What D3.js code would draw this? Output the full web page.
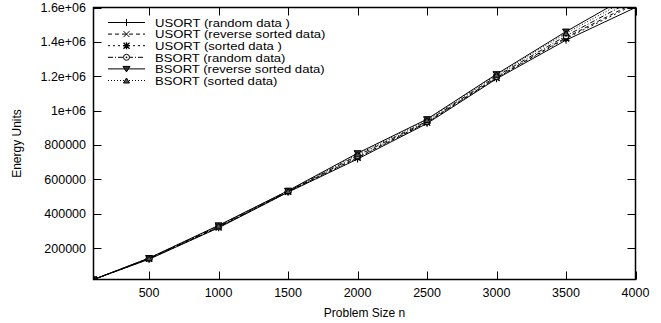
<!DOCTYPE html>
<html>
<head>
<meta charset="utf-8">
<script src="https://cdn.jsdelivr.net/npm/d3@7"></script>
<style>
  body { margin: 0; background: #fff; }
  text { font-family: "Liberation Sans", Arial, sans-serif; fill: #000; }
</style>
</head>
<body>
<div id="chart"></div>
<script>
// problem sizes
var sizes = [100, 500, 1000, 1500, 2000, 2500, 3000, 3500, 4000];

// energy per series
var usortRandom  = [17000, 135000, 318000, 525000, 718000, 925000, 1185000, 1410000, 1600000];
var usortReverse = [17000, 138000, 322000, 528000, 728000, 932000, 1192000, 1425000, 1630000];
var usortSorted  = [17000, 137000, 320000, 527000, 725000, 930000, 1190000, 1420000, 1620000];
var bsortRandom  = [17000, 140000, 326000, 530000, 738000, 938000, 1200000, 1435000, 1650000];
var bsortReverse = [17000, 142000, 332000, 534000, 752000, 950000, 1212000, 1460000, 1690000];
var bsortSorted  = [17000, 141000, 330000, 532000, 745000, 945000, 1208000, 1450000, 1670000];

var seriesNames = ["USORT (random data )", "USORT (reverse sorted data)", "USORT (sorted data )",
                   "BSORT (random data)", "BSORT (reverse sorted data)", "BSORT (sorted data)"];

var xTicks = [500, 1000, 1500, 2000, 2500, 3000, 3500, 4000];
var yTicks = [200000, 400000, 600000, 800000, 1000000, 1200000, 1400000, 1600000];
var yTickLabels = ["200000", "400000", "600000", "800000", "1e+06", "1.2e+06", "1.4e+06", "1.6e+06"];

var allValues = [usortRandom, usortReverse, usortSorted, bsortRandom, bsortReverse, bsortSorted];
var dashes = [null, "4,3", "2,3", "5,2,1,2", null, "1,2"];
var marks = ["plus", "cross", "star", "circle", "down", "up"];

var W = 661, H = 323;
var pL = 93.5, pR = 635.5, pT = 7.5, pB = 279.5;

var svg = d3.select("#chart").append("svg")
    .attr("width", W).attr("height", H);

var x = d3.scaleLinear().domain([100, 4000]).range([pL, pR]);
var y = d3.scaleLinear().domain([17000, 1600000]).range([pB, pT]);

svg.append("clipPath").attr("id", "clip")
  .append("rect").attr("x", pL).attr("y", pT)
  .attr("width", pR - pL).attr("height", pB - pT);

// ticks, inward on all sides
var tl = 8;
var ticks = svg.append("g").attr("stroke", "#000").attr("stroke-width", 1);
xTicks.forEach(function(t) {
  var px = Math.round(x(t)) + 0.5;
  ticks.append("line").attr("x1", px).attr("x2", px).attr("y1", pB).attr("y2", pB - tl);
  ticks.append("line").attr("x1", px).attr("x2", px).attr("y1", pT).attr("y2", pT + tl);
});
yTicks.forEach(function(t) {
  var py = Math.round(y(t)) + 0.5;
  ticks.append("line").attr("y1", py).attr("y2", py).attr("x1", pL).attr("x2", pL + tl);
  ticks.append("line").attr("y1", py).attr("y2", py).attr("x1", pR).attr("x2", pR - tl);
});

svg.selectAll(".xl").data(xTicks).enter().append("text")
  .attr("x", function(d) { return x(d); })
  .attr("y", 297)
  .attr("text-anchor", "middle")
  .attr("font-size", "12.5px")
  .text(function(d) { return d; });

svg.selectAll(".yl").data(yTicks).enter().append("text")
  .attr("x", 86)
  .attr("y", function(d) { return y(d) + 4.5; })
  .attr("text-anchor", "end")
  .attr("font-size", "12.5px")
  .text(function(d, i) { return yTickLabels[i]; });

svg.append("text")
  .attr("transform", "translate(21," + ((pT + pB) / 2) + ") rotate(-90)")
  .attr("text-anchor", "middle")
  .attr("font-size", "12px")
  .text("Energy Units");

svg.append("text")
  .attr("x", (pL + pR) / 2)
  .attr("y", 317)
  .attr("text-anchor", "middle")
  .attr("font-size", "12px")
  .text("Problem Size n");

function drawMark(g, kind, cx, cy) {
  var s = 3.5;
  if (kind === "plus") {
    g.append("path").attr("d", "M" + (cx - s) + "," + cy + "H" + (cx + s) + "M" + cx + "," + (cy - s) + "V" + (cy + s))
      .attr("stroke", "#000").attr("fill", "none");
  } else if (kind === "cross") {
    g.append("path").attr("d", "M" + (cx - 3) + "," + (cy - 3) + "L" + (cx + 3) + "," + (cy + 3) + "M" + (cx - 3) + "," + (cy + 3) + "L" + (cx + 3) + "," + (cy - 3))
      .attr("stroke", "#000").attr("fill", "none");
  } else if (kind === "star") {
    g.append("path").attr("d", "M" + (cx - 3) + "," + (cy - 3) + "L" + (cx + 3) + "," + (cy + 3) + "M" + (cx - 3) + "," + (cy + 3) + "L" + (cx + 3) + "," + (cy - 3) +
      "M" + (cx - s) + "," + cy + "H" + (cx + s) + "M" + cx + "," + (cy - s) + "V" + (cy + s))
      .attr("stroke", "#000").attr("stroke-width", 1.3).attr("fill", "none");
  } else if (kind === "circle") {
    g.append("circle").attr("cx", cx).attr("cy", cy).attr("r", 3)
      .attr("stroke", "#000").attr("fill", "#fff");
    g.append("circle").attr("cx", cx).attr("cy", cy).attr("r", 0.9).attr("fill", "#000");
  } else if (kind === "down") {
    g.append("path").attr("d", "M" + (cx - 3.5) + "," + (cy - 2.5) + "H" + (cx + 3.5) + "L" + cx + "," + (cy + 3) + "Z")
      .attr("stroke", "#000").attr("fill", "#333");
  } else if (kind === "up") {
    g.append("path").attr("d", "M" + (cx - 3) + "," + (cy + 2.5) + "H" + (cx + 3) + "L" + cx + "," + (cy - 2.5) + "Z")
      .attr("stroke", "#000").attr("fill", "#555");
  }
}

var line = d3.line()
  .x(function(d, i) { return x(sizes[i]); })
  .y(function(d) { return y(d); });

var plot = svg.append("g").attr("clip-path", "url(#clip)");
allValues.forEach(function(vals, k) {
  plot.append("path")
    .attr("d", line(vals))
    .attr("fill", "none")
    .attr("stroke", "#000")
    .attr("stroke-width", 1)
    .attr("stroke-dasharray", dashes[k]);
  var mg = plot.append("g");
  vals.forEach(function(v, i) { drawMark(mg, marks[k], x(sizes[i]), y(v)); });
});

// legend (text is a bit wider than tall in the original, so stretch it)
var leg = svg.append("g");
seriesNames.forEach(function(name, k) {
  var ly = 22.5 + k * 11.6;
  leg.append("line").attr("x1", 108).attr("x2", 145).attr("y1", ly).attr("y2", ly)
    .attr("stroke", "#000").attr("stroke-dasharray", dashes[k]);
  drawMark(leg, marks[k], 126.5, ly);
  leg.append("text")
    .attr("transform", "translate(155," + (ly + 4.2) + ") scale(1.17,1)")
    .attr("font-size", "11.2px").text(name);
});

// border
svg.append("rect")
  .attr("x", pL).attr("y", pT)
  .attr("width", pR - pL).attr("height", pB - pT)
  .attr("fill", "none").attr("stroke", "#000").attr("stroke-width", 1.5);
</script>
</body>
</html>
